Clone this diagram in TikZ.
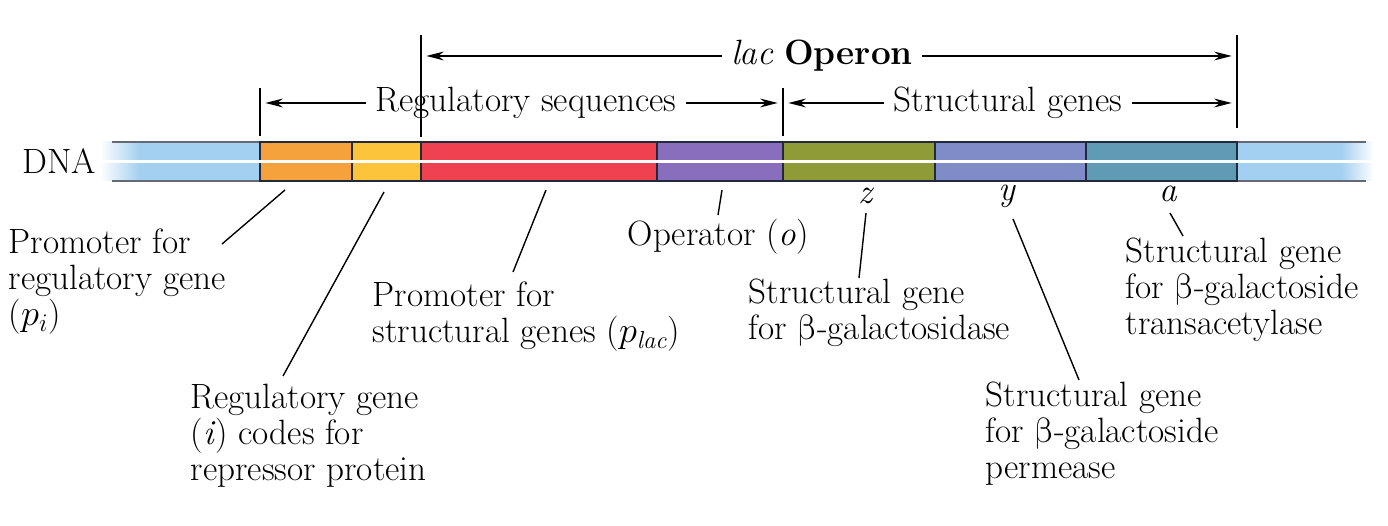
\documentclass[tikz,border=0pt]{standalone}
\usepackage{fontspec}
\newfontfamily\grkfont{latinmodern-math.otf}
\usetikzlibrary{arrows.meta,calc}
\definecolor{dnablue}{HTML}{A3CFF0}
\definecolor{dnaline}{HTML}{22293A}
\definecolor{segorange}{HTML}{F5A13C}
\definecolor{segyellow}{HTML}{FCC43A}
\definecolor{segred}{HTML}{EE4250}
\definecolor{segpurple}{HTML}{8A6EBE}
\definecolor{segolive}{HTML}{8E9B37}
\definecolor{segblue}{HTML}{808CC8}
\definecolor{segteal}{HTML}{609BB6}
\newcommand{\bet}{{\grkfont β}}

\begin{document}
\begin{tikzpicture}[x=0.02cm, y=-0.02cm, line width=0.8pt,
  lbl/.style={align=left, anchor=west, inner sep=0pt, font=\fontsize{20}{20.5}\selectfont},
  hd/.style={inner sep=5pt, font=\fontsize{20}{20.5}\selectfont},
  seg/.style={draw=dnaline, minimum height=0.78cm, inner sep=0pt, outer sep=0pt},
  dim/.style={-{Stealth[length=10pt,width=5pt]}, shorten >=3pt},
  lead/.style={line width=0.8pt}]
\useasboundingbox (0,0) rectangle (1388,526);

% DNA ends, faded
\shade[left color=white, right color=dnablue] (100,142) rectangle (140,181);
\fill[dnablue] (139,142) rectangle (260,181);
\fill[dnablue] (1237,142) rectangle (1342,181);
\shade[left color=dnablue, right color=white] (1341,142) rectangle (1374,181);
\draw[dnaline!70] (112,142) -- (1366,142) (112,181) -- (1366,181);

% gene segments
\foreach \a/\b/\c/\n in {260/352/segorange/pi, 352/421/segyellow/i, 421/657/segred/plac,
  657/783/segpurple/o, 783/935/segolive/z, 935/1086/segblue/y, 1086/1237/segteal/a}
  \node[seg, fill=\c, minimum width={(\b-\a)*0.02cm}] (seg-\n) at ({(\a+\b)/2},161.5) {};
\draw[white, line width=1.3pt] (100,161.5) -- (1374,161.5);

\node[lbl, anchor=east] (dna) at (97,161) {DNA};

% brackets above
\coordinate (opL) at (421,35);
\coordinate (opR) at (1237,35);
\coordinate (rgL) at (260,88);
\coordinate (rgM) at (783,88);
\draw (opL) -- (421,137);
\draw (opR) -- (1237,128);
\draw (rgL) -- (260,136);
\draw (rgM) -- (783,136);

\node[hd] (operon) at (822,56) {\textit{lac} \textbf{Operon}};
\node[hd] (regseq) at (526,103) {Regulatory sequences};
\node[hd] (strgen) at (1008,103) {Structural genes};
\draw[dim] (operon.west) -- (opL |- operon);
\draw[dim] (operon.east) -- (opR |- operon);
\draw[dim] (regseq.west) -- (rgL |- regseq);
\draw[dim] (regseq.east) -- (rgM |- regseq);
\draw[dim] (strgen.west) -- (rgM |- strgen);
\draw[dim] (strgen.east) -- (opR |- strgen);

% labels below
\node[lbl] (lpi) at (8,282) {Promoter for\\regulatory gene\\($p_i$)};
\node[lbl] (li) at (190,436) {Regulatory gene\\(\textit{i}) codes for\\repressor protein};
\node[lbl] (lplac) at (372,317) {Promoter for\\structural genes ($p_{\mathit{lac}}$)};
\node[lbl] (lo) at (627,237) {Operator (\textit{o})};
\node[lbl, anchor=center] (gz) at (866,196) {\textit{z}};
\node[lbl, anchor=center] (gy) at (1007,196) {\textit{y}};
\node[lbl, anchor=center] (ga) at (1168,194) {\textit{a}};
\node[lbl] (lz) at (748,313) {Structural gene\\for \bet-galactosidase};
\node[lbl] (ly) at (985,434) {Structural gene\\for \bet-galactoside\\permease};
\node[lbl] (la) at (1125,290) {Structural gene\\for \bet-galactoside\\transacetylase};

% leader lines
\foreach \n/\ax/\ay/\bx/\by in {pi/285/190/222/244, i/384/192/283/376, plac/546/190/513/272,
  o/722/190/718/215, z/866/213/859/278, y/1013/219/1079/380, a/1170/213/1183/236}{
  \coordinate (\n-from) at (\ax,\ay);
  \coordinate (\n-to) at (\bx,\by);
  \draw[lead] (\n-from) -- (\n-to);}

\end{tikzpicture}
\end{document}
